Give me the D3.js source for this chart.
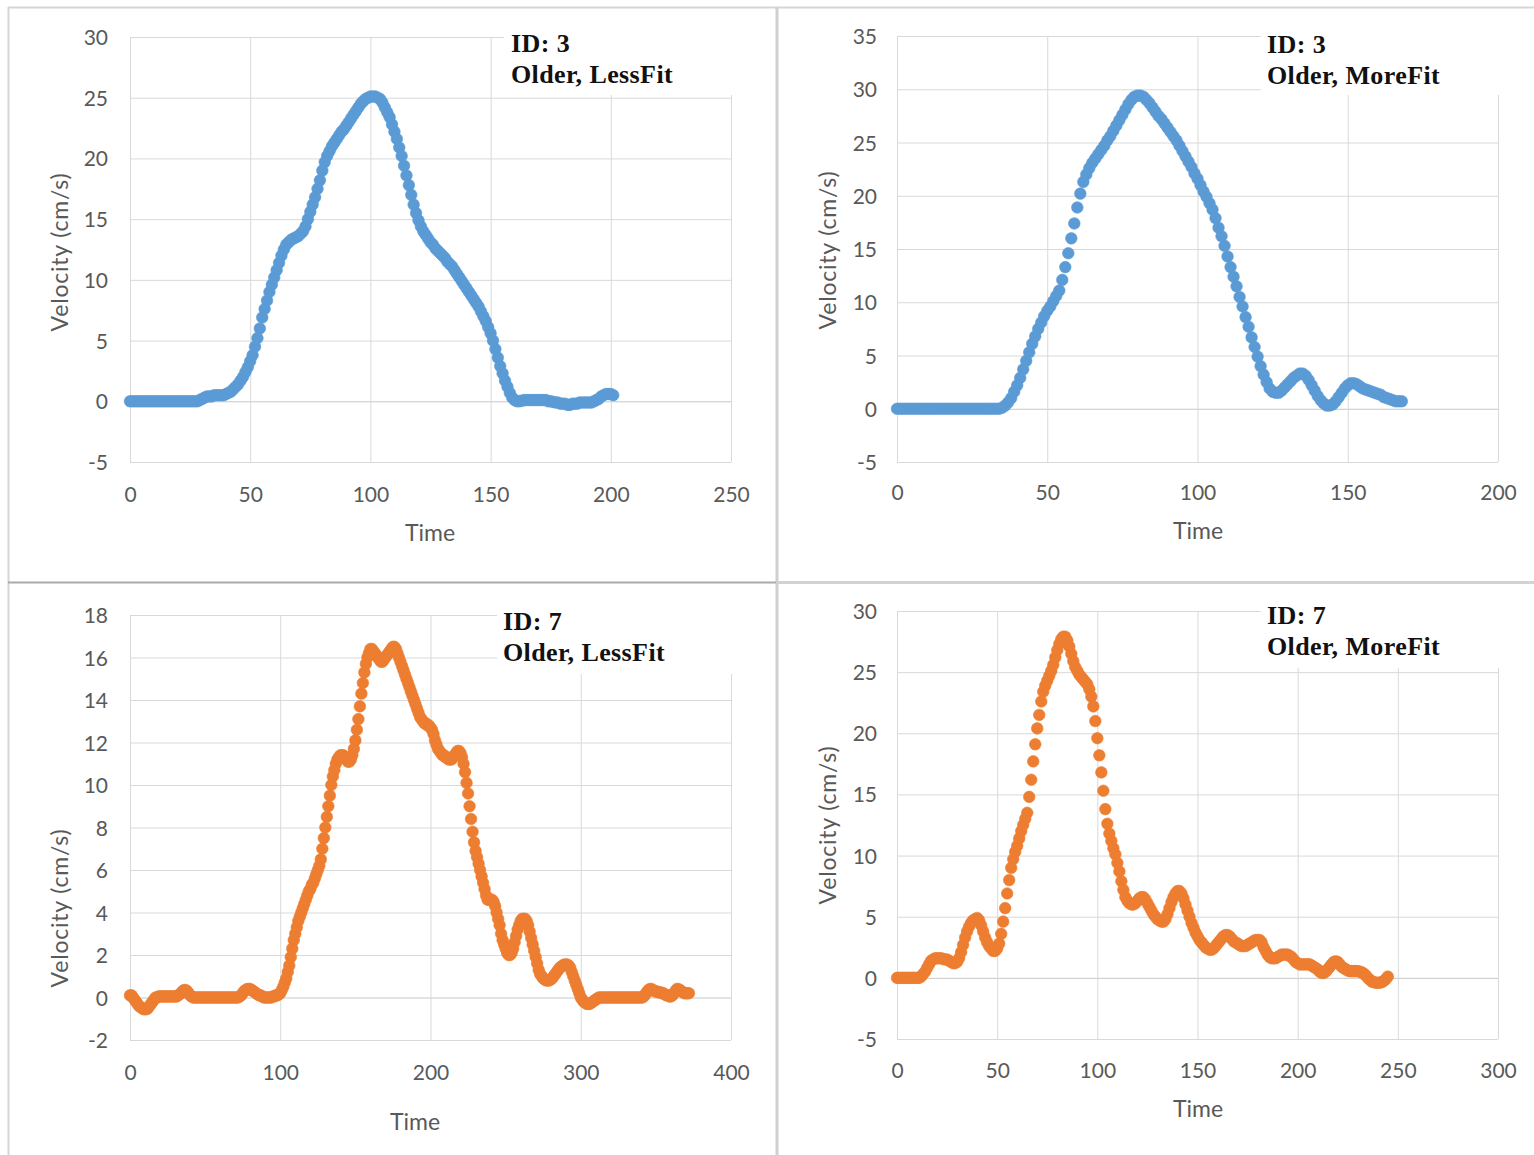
<!DOCTYPE html>
<html>
<head>
<meta charset="utf-8">
<script src="https://cdn.jsdelivr.net/npm/d3@7"></script>
<style>
  html, body { margin: 0; padding: 0; background: #fff; }
  svg { display: block; }
</style>
</head>
<body>
<svg id="chart" width="1534" height="1155"></svg>
<script>
// ---- Data (time step = 1, time = index) ----
// ID 3, Older, LessFit (t = 0..201)
const id3LessFit = [
  0,0,0,0,0,0,0,0,0,0,0,0,0,0,0,0,0,0,0,0,0,0,0,0,0,0,0,0,0,
  0.1,0.2,0.3,0.4,0.4,0.4,0.5,0.5,0.5,0.5,0.5,0.6,0.7,0.8,
  1.0,1.2,1.4,1.7,2.0,2.4,2.8,3.3,3.8,4.5,5.2,6.0,6.9,7.6,8.3,9.0,9.6,10.2,10.8,11.4,12.0,12.5,12.9,13.1,13.3,13.4,13.5,13.6,13.8,14.0,
  14.4,15.0,15.6,16.2,16.8,17.5,18.2,19.0,19.7,20.2,20.6,21.0,21.3,21.6,21.9,22.2,22.4,22.7,23.0,23.3,23.6,23.9,24.2,24.5,24.7,24.9,25.0,25.1,25.1,25.1,
  25.0,24.9,24.6,24.2,23.8,23.4,22.8,22.2,21.6,20.9,20.2,19.4,18.6,17.8,17.0,16.2,15.5,14.9,14.4,14.0,13.7,13.4,13.1,12.9,12.6,12.4,12.2,12.0,11.8,11.5,
  11.3,11.1,10.8,10.5,10.2,9.9,9.6,9.3,9.0,8.7,8.4,8.1,7.8,7.4,7.0,6.6,6.1,5.6,5.0,4.3,3.6,2.9,2.3,1.7,1.2,0.7,0.3,0.1,
  0.0,0.0,0.05,0.1,0.1,0.1,0.1,0.1,0.1,0.1,0.1,0.1,0.1,0.0,0.0,
  -0.05,-0.1,-0.1,-0.2,-0.2,-0.2,-0.3,-0.3,-0.2,-0.2,-0.2,-0.1,-0.1,-0.1,-0.1,-0.1,-0.1,0.0,0.1,
  0.2,0.4,0.5,0.6,0.6,0.6,0.5
];
// ID 3, Older, MoreFit (t = 0..168)
const id3MoreFit = [
  0,0,0,0,0,0,0,0,0,0,0,0,0,0,0,0,0,0,0,0,0,0,0,0,0,0,0,0,0,0,0,0,0,0,0,
  0.1,0.3,0.6,1.0,1.6,2.2,2.9,3.7,4.5,5.3,6.1,6.8,7.5,8.1,8.7,9.2,9.6,10.1,10.6,11.1,
  12.1,13.3,14.6,16.0,17.4,18.9,20.2,21.3,22.0,22.6,23.1,23.5,23.9,24.3,24.7,25.2,25.6,26.1,26.6,27.1,27.6,28.1,28.6,29.0,29.3,
  29.4,29.4,29.3,29.0,28.7,28.3,27.9,27.5,27.2,26.8,26.4,26.0,25.6,25.2,24.7,24.2,23.7,23.2,22.7,22.1,
  21.6,21.0,20.4,19.9,19.3,18.7,17.9,17.0,16.2,15.3,14.3,13.3,12.4,11.5,10.5,9.6,8.6,7.7,6.7,5.8,
  4.9,4.0,3.2,2.5,1.9,1.6,1.5,1.5,1.7,2.0,2.3,2.6,2.9,3.1,3.3,3.3,3.1,2.7,2.2,1.7,
  1.2,0.8,0.5,0.3,0.3,0.4,0.7,1.1,1.5,1.9,2.2,2.4,2.4,2.3,2.1,1.9,1.8,1.7,1.6,1.5,
  1.4,1.3,1.1,1.0,0.9,0.8,0.7,0.7,0.7
];
// ID 7, Older, LessFit (t = 0..372)
const id7LessFit = [
  0.1,0.1,0.0,-0.1,-0.2,-0.3,-0.4,-0.45,-0.5,-0.55,-0.55,-0.55,-0.5,-0.4,-0.3,-0.2,-0.1,0.0,0.0,0.05,
  0.05,0.05,0.05,0.05,0.05,0.05,0.05,0.05,0.05,0.05,0.05,0.05,0.1,0.15,
  0.2,0.3,0.35,0.35,0.3,0.2,0.1,0.05,
  0,0,0,0,0,0,0,0,0,0,0,0,0,0,0,0,0,0,0,0,0,0,0,0,0,0,0,0,0,0,0,
  0.05,0.1,0.2,0.3,0.35,0.4,0.4,
  0.4,0.35,0.3,0.25,0.2,0.15,0.1,0.1,0.05,0,0,0,0,0,0,0.05,0.05,0.1,0.1,0.15,
  0.2,0.35,0.5,0.7,0.9,1.2,1.5,1.9,2.3,2.7,3.0,3.3,3.6,3.8,4.0,4.2,4.4,4.6,4.8,5.0,5.1,5.3,5.4,5.6,5.8,6.0,6.2,6.5,7.0,7.5,
  8.0,8.5,9.0,9.5,10.0,10.4,10.7,11.0,11.2,11.3,11.4,11.4,11.4,11.3,11.2,11.1,11.1,11.2,11.4,11.7,12.1,12.6,13.1,13.7,14.3,14.8,15.3,15.7,16.0,16.2,
  16.4,16.4,16.3,16.2,16.1,16.0,15.9,15.8,15.8,15.9,16.0,16.1,16.2,16.3,16.4,16.5,16.5,16.4,16.2,16.0,15.8,15.6,15.4,15.2,15.0,14.8,14.6,14.4,14.2,14.0,
  13.8,13.6,13.4,13.2,13.1,13.0,12.9,12.9,12.8,12.8,12.7,12.6,12.4,12.1,11.9,11.7,11.6,11.5,11.4,11.4,11.3,11.3,11.2,11.2,11.2,11.3,11.4,11.5,11.6,11.6,
  11.5,11.3,11.0,10.6,10.1,9.6,9.0,8.4,7.8,7.3,6.9,6.6,6.3,6.0,5.7,5.4,5.1,4.8,4.6,4.6,4.6,4.6,4.5,4.3,4.0,3.7,3.4,3.0,2.7,2.5,
  2.3,2.1,2.0,2.0,2.1,2.3,2.6,2.9,3.2,3.4,3.6,3.7,3.7,3.7,3.6,3.4,
  3.1,2.8,2.5,2.2,1.9,1.6,1.3,1.1,1.0,0.9,0.85,0.8,0.8,0.8,0.85,0.9,1.0,1.1,1.2,1.3,1.4,1.45,1.5,1.55,1.55,
  1.55,1.5,1.4,1.2,1.0,0.8,0.6,0.4,0.2,0.0,-0.1,-0.2,-0.25,-0.3,-0.3,-0.3,-0.25,-0.2,-0.15,-0.1,-0.05,0.0,
  0,0,0,0,0,0,0,0,0,0,0,0,0,0,0,0,0,0,0,0,0,0,0,0,0,0,0,0,
  0.0,0.05,0.15,0.25,0.35,0.4,0.4,0.35,0.3,0.3,0.25,0.25,0.25,0.2,0.2,0.15,0.1,0.1,0.05,0.05,
  0.1,0.2,0.3,0.4,0.4,0.35,0.3,0.25,0.2,0.2,0.2,0.2
];
// ID 7, Older, MoreFit (t = 0..245)
const id7MoreFit = [
  0,0,0,0,0,0,0,0,0,0,0,0,
  0.1,0.3,0.5,0.8,1.1,1.4,1.5,1.6,1.6,1.6,1.6,1.55,1.5,1.5,1.4,1.3,1.2,1.2,1.3,1.6,2.1,2.7,3.3,3.8,4.2,4.5,4.7,4.8,
  4.9,4.7,4.3,3.8,3.3,2.9,2.6,2.4,2.2,2.2,2.4,2.8,3.6,4.6,5.7,6.9,8.0,9.0,9.7,10.3,
  10.8,11.4,12.0,12.5,13.0,13.5,14.8,16.2,17.7,19.1,20.4,21.5,22.6,23.4,23.9,24.3,24.7,25.1,25.6,26.2,
  26.8,27.3,27.7,27.9,27.9,27.6,27.1,26.5,25.9,25.4,25.1,24.8,24.6,24.4,24.2,24.0,23.6,23.0,22.2,21.0,
  19.6,18.2,16.8,15.3,13.8,12.6,11.8,11.2,10.6,10.1,9.4,8.7,7.9,7.2,6.6,6.3,6.1,6.0,6.0,6.1,
  6.3,6.5,6.6,6.6,6.4,6.1,5.8,5.5,5.2,5.0,4.8,4.7,4.6,4.6,4.8,5.2,5.7,6.2,6.6,6.9,
  7.1,7.1,6.9,6.5,6.0,5.5,5.0,4.5,4.1,3.7,3.4,3.1,2.9,2.7,2.5,2.4,2.3,2.3,2.4,2.6,
  2.8,3.0,3.2,3.4,3.5,3.5,3.4,3.2,3.0,2.9,2.8,2.7,2.6,2.6,2.6,2.7,2.8,2.9,3.0,3.1,
  3.1,3.1,2.9,2.5,2.2,1.9,1.7,1.6,1.6,1.6,1.7,1.8,1.9,1.9,1.9,1.9,1.8,1.7,1.5,1.3,
  1.2,1.1,1.1,1.1,1.1,1.1,1.1,1.0,0.9,0.8,0.7,0.5,0.4,0.4,0.5,0.7,0.9,1.1,1.3,1.35,
  1.3,1.1,0.9,0.8,0.7,0.6,0.55,0.55,0.55,0.55,0.55,0.5,0.45,0.35,0.2,0.0,-0.15,-0.3,-0.35,-0.4,
  -0.4,-0.4,-0.35,-0.25,-0.1,0.1
];

// Axis ranges / ticks
const p1XTicks = [0, 50, 100, 150, 200, 250];
const p1YTicks = [-5, 0, 5, 10, 15, 20, 25, 30];
const p2XTicks = [0, 50, 100, 150, 200];
const p2YTicks = [-5, 0, 5, 10, 15, 20, 25, 30, 35];
const p3XTicks = [0, 100, 200, 300, 400];
const p3YTicks = [-2, 0, 2, 4, 6, 8, 10, 12, 14, 16, 18];
const p4XTicks = [0, 50, 100, 150, 200, 250, 300];
const p4YTicks = [-5, 0, 5, 10, 15, 20, 25, 30];

const labelsP1 = ["ID: 3", "Older, LessFit"];
const labelsP2 = ["ID: 3", "Older, MoreFit"];
const labelsP3 = ["ID: 7", "Older, LessFit"];
const labelsP4 = ["ID: 7", "Older, MoreFit"];

const xTitle = "Time";
const yTitle = "Velocity (cm/s)";

const BLUE = "#5b9bd5";
const ORANGE = "#ed7d31";

// ---- Layout ----
const panels = [
  { data: id3LessFit, color: BLUE, xt: p1XTicks, yt: p1YTicks, labels: labelsP1,
    px: [130, 731], py: [462, 37], yLabX: 108, xLabY: 502, tX: 430, tY: 541, vX: 60, vY: 252,
    annX: 511, annY: [52, 83], box: [504, 27, 256, 68] },
  { data: id3MoreFit, color: BLUE, xt: p2XTicks, yt: p2YTicks, labels: labelsP2,
    px: [897, 1498], py: [462, 36], yLabX: 877, xLabY: 500, tX: 1198, tY: 539, vX: 828, vY: 250,
    annX: 1267, annY: [53, 84], box: [1261, 27, 260, 68] },
  { data: id7LessFit, color: ORANGE, xt: p3XTicks, yt: p3YTicks, labels: labelsP3,
    px: [130, 731], py: [1040, 615], yLabX: 108, xLabY: 1080, tX: 415, tY: 1130, vX: 60, vY: 908,
    annX: 503, annY: [630, 661], box: [497, 604, 263, 70] },
  { data: id7MoreFit, color: ORANGE, xt: p4XTicks, yt: p4YTicks, labels: labelsP4,
    px: [897, 1498], py: [1039, 611], yLabX: 877, xLabY: 1078, tX: 1198, tY: 1117, vX: 828, vY: 825,
    annX: 1267, annY: [624, 655], box: [1261, 600, 260, 68] }
];

const svg = d3.select("#chart");
const tickFont = "Lato, 'Open Sans', sans-serif";

// frame lines
const frame = svg.append("g");
frame.append("line").attr("x1", 8).attr("x2", 1534).attr("y1", 7.5).attr("y2", 7.5).attr("stroke", "#d6d6d6").attr("stroke-width", 2);
frame.append("line").attr("x1", 8.5).attr("x2", 8.5).attr("y1", 7).attr("y2", 1155).attr("stroke", "#d6d6d6").attr("stroke-width", 2);
frame.append("line").attr("x1", 777).attr("x2", 777).attr("y1", 7).attr("y2", 1155).attr("stroke", "#d0d0d0").attr("stroke-width", 3);
frame.append("line").attr("x1", 8).attr("x2", 776).attr("y1", 582.5).attr("y2", 582.5).attr("stroke", "#a9a9a9").attr("stroke-width", 2);
frame.append("line").attr("x1", 778).attr("x2", 1534).attr("y1", 582.5).attr("y2", 582.5).attr("stroke", "#d3d3d3").attr("stroke-width", 3);

panels.forEach(p => {
  const xDom = [p.xt[0], p.xt[p.xt.length - 1]];
  const yDom = [p.yt[0], p.yt[p.yt.length - 1]];
  const x = d3.scaleLinear().domain(xDom).range(p.px);
  const y = d3.scaleLinear().domain(yDom).range(p.py);
  const g = svg.append("g");

  // horizontal gridlines
  const gy = g.append("g").attr("transform", `translate(${p.px[0]},0)`)
    .call(d3.axisLeft(y).tickValues(p.yt).tickSize(-(p.px[1] - p.px[0])).tickFormat(""));
  gy.select(".domain").remove();
  gy.selectAll(".tick line").attr("stroke", d => d === 0 ? "#c8c8c8" : "#d9d9d9").attr("stroke-width", 1);

  // vertical gridlines
  const gx = g.append("g").attr("transform", `translate(0,${p.py[0]})`)
    .call(d3.axisBottom(x).tickValues(p.xt).tickSize(-(p.py[0] - p.py[1])).tickFormat(""));
  gx.select(".domain").remove();
  gx.selectAll(".tick line").attr("stroke", "#d9d9d9").attr("stroke-width", 1);

  // y tick labels
  const ly = g.append("g").attr("transform", `translate(${p.yLabX},0)`)
    .call(d3.axisLeft(y).tickValues(p.yt).tickSize(0).tickPadding(0).tickFormat(d => String(d)));
  ly.select(".domain").remove();
  ly.selectAll("text").attr("font-family", tickFont).attr("font-size", 21).attr("fill", "#595959")
    .attr("x", 0).attr("text-anchor", "end").attr("dy", "0.36em");

  // x tick labels
  const lx = g.append("g").attr("transform", `translate(0,${p.xLabY})`)
    .call(d3.axisBottom(x).tickValues(p.xt).tickSize(0).tickPadding(0).tickFormat(d => String(d)));
  lx.select(".domain").remove();
  lx.selectAll("text").attr("font-family", tickFont).attr("font-size", 21).attr("fill", "#595959")
    .attr("y", 0).attr("dy", 0);

  // axis titles
  g.append("text").attr("x", p.tX).attr("y", p.tY).attr("text-anchor", "middle")
    .attr("font-family", tickFont).attr("font-size", 23).attr("fill", "#595959").text(xTitle);
  g.append("text").attr("transform", `translate(${p.vX},${p.vY}) rotate(-90)`)
    .attr("text-anchor", "middle").attr("dy", "0.35em").attr("letter-spacing", "0.8")
    .attr("font-family", tickFont).attr("font-size", 23).attr("fill", "#595959").text(yTitle);

  // markers
  g.append("g").selectAll("circle").data(p.data).join("circle")
    .attr("cx", (d, i) => x(i)).attr("cy", d => y(d)).attr("r", 5.8)
    .attr("fill", p.color).attr("stroke", p.color).attr("stroke-width", 0.6);

  // annotation
  g.append("rect").attr("x", p.box[0]).attr("y", p.box[1]).attr("width", p.box[2]).attr("height", p.box[3]).attr("fill", "#fff");
  p.labels.forEach((t, i) => {
    g.append("text").attr("x", p.annX).attr("y", p.annY[i])
      .attr("font-family", "'Liberation Serif', 'Times New Roman', serif").attr("font-weight", "bold")
      .attr("font-size", 26).attr("letter-spacing", "0.4").attr("fill", "#111").text(t);
  });
});
</script>
</body>
</html>
